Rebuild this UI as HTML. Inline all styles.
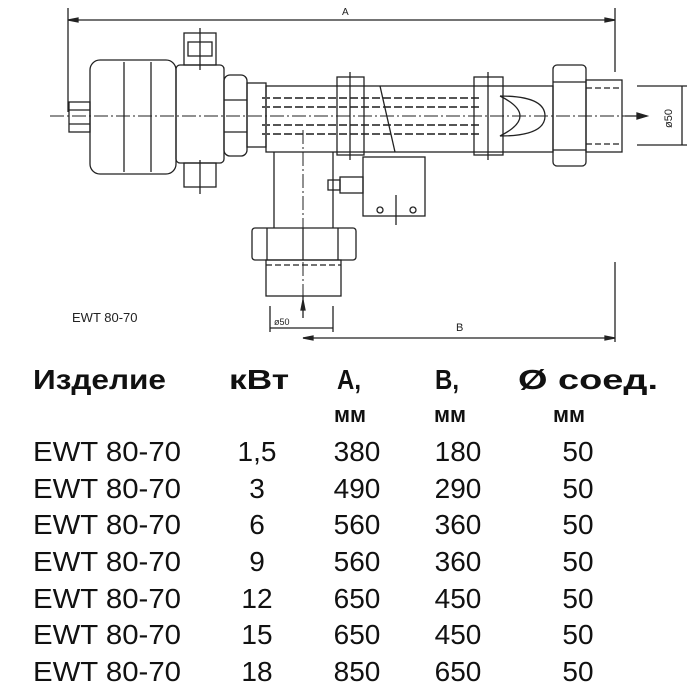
<!DOCTYPE html>
<html><head><meta charset="utf-8"><style>html,body{margin:0;padding:0;background:#fff}svg{display:block}</style></head>
<body>
<svg width="700" height="700" viewBox="0 0 700 700" xmlns="http://www.w3.org/2000/svg" font-family="Liberation Sans, sans-serif">
<g fill="none" stroke="#222" stroke-width="1.3">
<line x1="68" y1="20" x2="615" y2="20"/>
<line x1="68" y1="8" x2="68" y2="112"/>
<line x1="615" y1="8" x2="615" y2="72"/>
<path d="M68 20 l10 -2 v4z M615 20 l-10 -2 v4z" fill="#222"/>
<line x1="50" y1="116" x2="625" y2="116" stroke-dasharray="14 3 2 3" stroke-width="1"/>
<rect x="69" y="102" width="21" height="30"/>
<line x1="69" y1="110" x2="90" y2="110"/><line x1="69" y1="124" x2="90" y2="124"/>
<rect x="90" y="60" width="86" height="114" rx="10"/>
<line x1="124" y1="62" x2="124" y2="172"/><line x1="151" y1="62" x2="151" y2="172"/>
<rect x="176" y="65" width="48" height="98" rx="4"/>
<rect x="184" y="33" width="32" height="32"/><rect x="188" y="42" width="24" height="14"/>
<line x1="200" y1="28" x2="200" y2="70"/>
<rect x="184" y="163" width="32" height="24"/><line x1="200" y1="160" x2="200" y2="194"/>
<rect x="224" y="75" width="23" height="81" rx="6"/>
<line x1="224" y1="100" x2="247" y2="100"/><line x1="224" y1="132" x2="247" y2="132"/>
<rect x="247" y="83" width="19" height="64"/>
<rect x="266" y="86" width="287" height="66"/>
<g stroke-dasharray="8 3" stroke-width="2" stroke="#555">
<line x1="262" y1="98" x2="480" y2="98"/><line x1="262" y1="107" x2="480" y2="107"/>
<line x1="262" y1="125" x2="480" y2="125"/><line x1="262" y1="134" x2="480" y2="134"/>
</g>
<path d="M500 96 Q545 96 545 116 Q545 136 500 136 Q520 126 520 116 Q520 106 500 96" />
<path d="M380 86 L395 152"/>
<rect x="337" y="77" width="27" height="78"/><line x1="350" y1="72" x2="350" y2="160"/>
<rect x="474" y="77" width="29" height="78"/><line x1="488" y1="72" x2="488" y2="160"/>
<rect x="553" y="65" width="33" height="101" rx="4"/>
<line x1="553" y1="82" x2="586" y2="82"/><line x1="553" y1="150" x2="586" y2="150"/>
<rect x="586" y="80" width="36" height="72"/>
<line x1="586" y1="88" x2="622" y2="88" stroke-dasharray="6 3"/><line x1="586" y1="144" x2="622" y2="144" stroke-dasharray="6 3"/>
<path d="M625 116 h22" /><path d="M647 116 l-10 -3 v6z" fill="#222"/>
<line x1="682" y1="86" x2="682" y2="145"/>
<line x1="637" y1="86" x2="687" y2="86"/><line x1="637" y1="145" x2="687" y2="145"/>
<path d="M274 152 V228 M333 152 V228"/>
<line x1="303" y1="130" x2="303" y2="300" stroke-dasharray="14 3 2 3" stroke-width="1"/>
<rect x="252" y="228" width="104" height="32" rx="3"/>
<line x1="267" y1="228" x2="267" y2="260"/><line x1="303" y1="228" x2="303" y2="260"/><line x1="338" y1="228" x2="338" y2="260"/>
<rect x="266" y="260" width="75" height="36"/>
<line x1="266" y1="265" x2="341" y2="265" stroke-dasharray="6 3"/>
<line x1="303" y1="296" x2="303" y2="318"/><path d="M303 300 l-2 10 h4z" fill="#222"/>
<line x1="270" y1="306" x2="270" y2="332"/><line x1="333" y1="306" x2="333" y2="332"/>
<line x1="270" y1="328" x2="333" y2="328"/>
<line x1="303" y1="338" x2="615" y2="338"/><line x1="615" y1="262" x2="615" y2="342"/>
<path d="M303 338 l10 -2 v4z M615 338 l-10 -2 v4z" fill="#222"/>
<rect x="363" y="157" width="62" height="59"/>
<rect x="340" y="177" width="23" height="16"/><rect x="328" y="180" width="12" height="10"/>
<circle cx="380" cy="210" r="3"/><circle cx="413" cy="210" r="3"/>
<line x1="396" y1="195" x2="396" y2="225"/>
</g>
<g fill="#222" font-size="10">
<text x="342" y="15">A</text>
<text x="456" y="331" font-size="11">B</text>
<text x="274" y="325" font-size="9">ø50</text>
<text transform="translate(672,128) rotate(-90)" font-size="11">ø50</text>
<text x="72" y="322" font-size="13">EWT 80-70</text>
</g>
<g fill="#111" font-weight="bold" font-size="28">
<text x="33" y="389" textLength="133" lengthAdjust="spacingAndGlyphs">Изделие</text>
<text x="229" y="389" textLength="60" lengthAdjust="spacingAndGlyphs">кВт</text>
<text x="337" y="389" textLength="24" lengthAdjust="spacingAndGlyphs">A,</text>
<text x="435" y="389" textLength="24" lengthAdjust="spacingAndGlyphs">B,</text>
<text x="518" y="389" textLength="140" lengthAdjust="spacingAndGlyphs">Ø соед.</text>
<text x="334" y="422" font-size="22" textLength="32" lengthAdjust="spacingAndGlyphs">мм</text>
<text x="434" y="422" font-size="22" textLength="32" lengthAdjust="spacingAndGlyphs">мм</text>
<text x="553" y="422" font-size="22" textLength="32" lengthAdjust="spacingAndGlyphs">мм</text>
</g>
<g fill="#111" font-size="28">
<g>
<text x="33" y="461" textLength="148" lengthAdjust="spacingAndGlyphs">EWT 80-70</text>
<text x="33" y="498" textLength="148" lengthAdjust="spacingAndGlyphs">EWT 80-70</text>
<text x="33" y="534" textLength="148" lengthAdjust="spacingAndGlyphs">EWT 80-70</text>
<text x="33" y="571" textLength="148" lengthAdjust="spacingAndGlyphs">EWT 80-70</text>
<text x="33" y="608" textLength="148" lengthAdjust="spacingAndGlyphs">EWT 80-70</text>
<text x="33" y="644" textLength="148" lengthAdjust="spacingAndGlyphs">EWT 80-70</text>
<text x="33" y="681" textLength="148" lengthAdjust="spacingAndGlyphs">EWT 80-70</text>
</g>
<g text-anchor="middle">
<text x="257" y="461">1,5</text><text x="257" y="498">3</text><text x="257" y="534">6</text><text x="257" y="571">9</text><text x="257" y="608">12</text><text x="257" y="644">15</text><text x="257" y="681">18</text>
<text x="357" y="461">380</text><text x="357" y="498">490</text><text x="357" y="534">560</text><text x="357" y="571">560</text><text x="357" y="608">650</text><text x="357" y="644">650</text><text x="357" y="681">850</text>
<text x="458" y="461">180</text><text x="458" y="498">290</text><text x="458" y="534">360</text><text x="458" y="571">360</text><text x="458" y="608">450</text><text x="458" y="644">450</text><text x="458" y="681">650</text>
<text x="578" y="461">50</text><text x="578" y="498">50</text><text x="578" y="534">50</text><text x="578" y="571">50</text><text x="578" y="608">50</text><text x="578" y="644">50</text><text x="578" y="681">50</text>
</g>
</g>
</svg>
</body></html>
